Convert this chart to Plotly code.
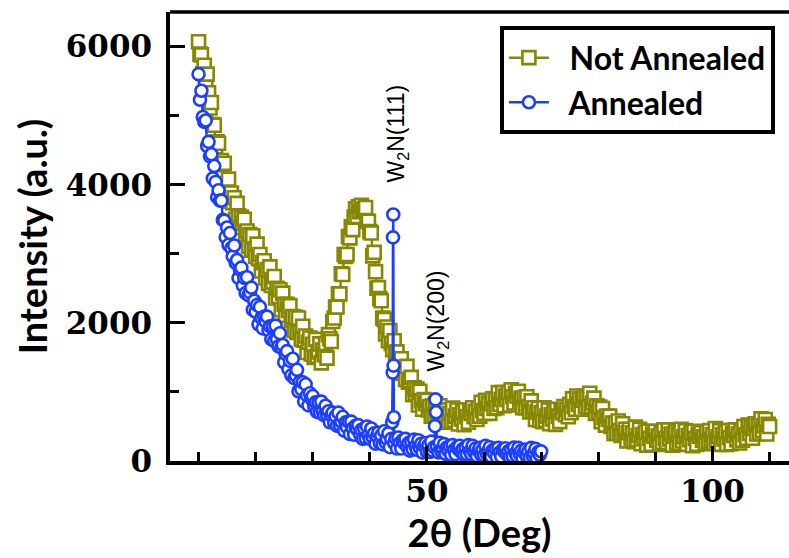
import plotly.graph_objects as go


def grid(start, stop, step=0.25):
    n = int(round((stop - start) / step)) + 1
    return [round(start + i * step, 2) for i in range(n)]


# ---- Not Annealed (2theta scan, 0.25 deg steps, 10-110 deg) ----
two_theta_not_annealed = grid(10.0, 110.0)
intensity_not_annealed = [
    6070, 5890, 5880, 5610, 5730, 5450, 5600, 5330,   # 10.0
    5110, 5190, 4870, 4860, 4550, 4620, 4600, 4290,   # 12.0
    4350, 4100, 4310, 4000, 4010, 4080, 3760, 3880,   # 14.0
    3740, 3810, 3500, 3730, 3550, 3380, 3530, 3440,   # 16.0
    3500, 3280, 3330, 3110, 3280, 3050, 3260, 3060,   # 18.0
    2960, 3140, 2930, 2990, 2750, 2870, 2900, 2650,   # 20.0
    2770, 2570, 2810, 2540, 2590, 2670, 2360, 2500,   # 22.0
    2380, 2480, 2190, 2430, 2270, 2110, 2270, 2180,   # 24.0
    2250, 2040, 2090, 1890, 2080, 1860, 2070, 1870,   # 26.0
    1760, 1950, 1750, 1810, 1570, 1720, 1780, 1550,   # 28.0
    1690, 1500, 1760, 1515, 1580, 1695, 1420, 1605,   # 30.0
    1540, 1700, 1490, 1830, 1770, 1730, 2020, 2070,   # 32.0
    2230, 2230, 2420, 2420, 2710, 2700, 2990, 2960,   # 34.0
    2990, 3250, 3230, 3390, 3350, 3530, 3650, 3540,   # 36.0
    3680, 3610, 3700, 3640, 3650, 3670, 3470, 3470,   # 38.0
    3320, 3300, 2970, 3020, 2740, 2500, 2510, 2350,   # 40.0
    2320, 2070, 2050, 1840, 1940, 1740, 1890, 1700,   # 42.0
    1610, 1740, 1560, 1580, 1360, 1460, 1480, 1270,   # 44.0
    1360, 1180, 1370, 1140, 1160, 1210, 960, 1060,    # 46.0
    970, 1040, 810, 1010, 870, 750, 890, 830,         # 48.0
    880, 740, 790, 650, 800, 660, 830, 700,           # 50.0
    630, 800, 660, 720, 560, 680, 740, 570,           # 52.0
    690, 560, 765, 590, 650, 740, 535, 670,           # 54.0
    610, 710, 525, 740, 640, 560, 720, 690,           # 56.0
    770, 640, 720, 600, 770, 650, 850, 730,           # 58.0
    690, 880, 760, 840, 690, 830, 900, 760,           # 60.0
    890, 770, 990, 820, 890, 990, 800, 940,           # 62.0
    890, 990, 810, 1030, 930, 840, 980, 940,          # 64.0
    1010, 860, 910, 770, 920, 770, 930, 790,          # 66.0
    710, 870, 720, 770, 600, 710, 760, 590,           # 68.0
    700, 570, 770, 590, 650, 740, 540, 670,           # 70.0
    610, 710, 530, 750, 650, 570, 730, 700,           # 72.0
    790, 670, 750, 640, 820, 700, 900, 790,           # 74.0
    750, 940, 820, 900, 750, 880, 940, 790,           # 76.0
    910, 780, 980, 790, 840, 910, 690, 800,           # 78.0
    710, 780, 570, 760, 630, 520, 650, 600,           # 80.0
    650, 500, 550, 400, 550, 400, 580, 440,           # 82.0
    370, 540, 400, 460, 290, 410, 460, 300,           # 84.0
    410, 280, 490, 310, 370, 460, 250, 380,           # 86.0
    320, 420, 230, 430, 330, 240, 390, 360,           # 88.0
    430, 300, 360, 240, 400, 270, 450, 330,           # 90.0
    270, 450, 320, 390, 230, 360, 420, 260,           # 92.0
    380, 250, 460, 290, 350, 440, 240, 370,           # 94.0
    310, 410, 220, 430, 330, 240, 390, 360,           # 96.0
    410, 300, 350, 250, 420, 280, 440, 310,           # 98.0
    380, 260, 470, 300, 350, 440, 240, 380,           # 100.0
    320, 420, 240, 440, 340, 250, 400, 370,           # 102.0
    450, 310, 390, 260, 430, 300, 500, 380,           # 104.0
    330, 520, 400, 480, 330, 470, 540, 390,           # 106.0
    520, 400, 610, 440, 510, 600, 390, 530,           # 108.0
    500,                                              # 110.0
]

# ---- Annealed ----
two_theta_annealed = (
    grid(10.0, 43.75)
    + [43.9, 44.0, 44.05, 44.1, 44.15, 44.2]          # W2N(111)
    + grid(44.25, 51.25)
    + [51.4, 51.5, 51.6]                              # W2N(200)
    + grid(51.75, 70.0)
)
intensity_annealed = [
    5600, 5230, 5360, 4980, 4910, 4930, 4560, 4620,   # 10.0
    4410, 4440, 4090, 4270, 4040, 3820, 3920, 3770,   # 12.0
    3770, 3490, 3480, 3240, 3380, 3130, 3300, 3080,   # 14.0
    2960, 3120, 2870, 2910, 2650, 2770, 2800, 2540,   # 16.0
    2650, 2430, 2660, 2400, 2440, 2510, 2190, 2320,   # 18.0
    2160, 2260, 1980, 2230, 2070, 1920, 2090, 2020,   # 20.0
    2090, 1890, 1950, 1760, 1950, 1740, 1960, 1760,   # 22.0
    1660, 1850, 1640, 1680, 1430, 1550, 1590, 1330,   # 24.0
    1450, 1240, 1480, 1200, 1240, 1320, 1010, 1150,   # 26.0
    1040, 1140, 860, 1110, 950, 805, 980, 905,        # 28.0
    940, 800, 850, 710, 850, 700, 860, 720,           # 30.0
    660, 800, 670, 720, 560, 660, 700, 550,           # 32.0
    650, 510, 700, 520, 570, 640, 440, 560,           # 34.0
    490, 570, 390, 570, 470, 380, 510, 460,           # 36.0
    520, 390, 450, 320, 470, 330, 500, 370,           # 38.0
    320, 470, 340, 400, 250, 360, 410, 260,           # 40.0
    370, 240, 430, 270, 320, 400, 200, 320,           # 42.0
    561, 1280, 3237, 3568, 1381, 633,                 # W2N(111) peak
    260, 330, 180, 340, 260, 180, 300, 260,           # 44.25
    320, 210, 260, 150, 280, 170, 310, 210,           # 46.25
    160, 300, 190, 250, 120, 220, 260, 130,           # 48.25
    230, 130, 280, 150, 200,                          # 50.25
    504, 892, 705,                                    # W2N(200) peak
    210, 125, 265, 145, 185, 245, 105, 195,           # 51.75
    150, 215, 90, 230, 160, 100, 200, 170,            # 53.75
    220, 130, 170, 90, 200, 100, 230, 140,            # 55.75
    100, 220, 130, 180, 70, 150, 190, 90,             # 57.75
    165, 80, 220, 105, 145, 200, 65, 155,             # 59.75
    115, 180, 55, 190, 125, 65, 165, 140,             # 61.75
    185, 95, 140, 55, 165, 70, 195, 110,              # 63.75
    75, 190, 105, 150, 40, 125, 165, 60,              # 65.75
    140, 50, 190, 75, 115, 175, 40, 130,              # 67.75
    90, 140,                                          # 69.75
]

OLIVE = "#878700"
BLUE = "#1c3fff"
NBSP = "\u00a0"

fig = go.Figure()
fig.add_trace(go.Scatter(
    x=two_theta_not_annealed, y=intensity_not_annealed,
    mode="lines+markers", name=NBSP * 2 + "Not Annealed",
    line=dict(color=OLIVE, width=2.5),
    marker=dict(symbol="square", size=13, color="white",
                line=dict(color=OLIVE, width=2.6)),
))
fig.add_trace(go.Scatter(
    x=two_theta_annealed, y=intensity_annealed,
    mode="lines+markers", name=NBSP * 2 + "Annealed",
    line=dict(color=BLUE, width=2.5),
    marker=dict(symbol="circle", size=12, color="white",
                line=dict(color=BLUE, width=2.6)),
))

axis_common = dict(
    showline=True, linecolor="black", linewidth=3.5,
    ticks="inside", ticklen=15, tickwidth=3, tickcolor="black",
    showgrid=False, zeroline=False,
    tickfont=dict(family="DejaVu Serif", size=31, color="black", weight="bold"),
)

fig.update_layout(
    width=789, height=558,
    margin=dict(l=170, r=0, t=12, b=97),
    plot_bgcolor="white", paper_bgcolor="white",
    xaxis=dict(
        range=[5, 113.4], dtick=50, tick0=0,
        minor=dict(dtick=10, tick0=0, ticks="inside", ticklen=9,
                   tickwidth=3, tickcolor="black"),
        title=dict(text="2θ (Deg)", standoff=8,
                   font=dict(family="Lato", size=38, color="black", weight="bold")),
        **axis_common,
    ),
    yaxis=dict(
        range=[0, 6500], dtick=2000, tick0=0,
        minor=dict(dtick=1000, tick0=0, ticks="inside", ticklen=9,
                   tickwidth=3, tickcolor="black"),
        ticklabelstandoff=8,
        title=dict(text="Intensity (a.u.)", standoff=7,
                   font=dict(family="Lato", size=38, color="black", weight="bold")),
        **axis_common,
    ),
    legend=dict(
        x=0.533, y=0.968, xanchor="left", yanchor="top",
        bgcolor="white", bordercolor="black", borderwidth=4,
        font=dict(family="Lato", size=32, color="black", weight="bold"),
        itemwidth=40, tracegroupgap=0,
    ),
    shapes=[dict(type="line", xref="paper", yref="paper",
                 x0=0, x1=1, y0=1, y1=1,
                 line=dict(color="black", width=3.5))],
    annotations=[
        dict(x=44.9, y=4740, xref="x", yref="y", text="W<sub>2</sub>N(111)",
             textangle=-90, showarrow=False,
             font=dict(family="Liberation Sans", size=23, color="black")),
        dict(x=51.9, y=2030, xref="x", yref="y", text="W<sub>2</sub>N(200)",
             textangle=-90, showarrow=False,
             font=dict(family="Liberation Sans", size=23, color="black")),
    ],
)

fig.write_html("out.html")
